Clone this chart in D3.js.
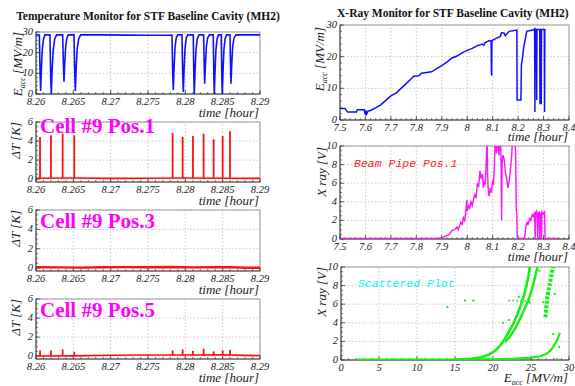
<!DOCTYPE html>
<html>
<head>
<meta charset="utf-8">
<script src="https://cdn.jsdelivr.net/npm/d3@7"></script>
<style>
  body { margin: 0; background: #fff; }
  svg { display: block; }
  .serif { font-family: "Liberation Serif", "Times New Roman", Times, "DejaVu Serif", serif; }
  .tick-label { font-family: "Liberation Serif", "Times New Roman", Times, "DejaVu Serif", serif; font-style: italic; font-size: 10.5px; fill: #222; }
  .axis-title { font-family: "Liberation Serif", "Times New Roman", Times, "DejaVu Serif", serif; font-style: italic; font-size: 13px; fill: #222; }
  .title { font-family: "Liberation Serif", "Times New Roman", Times, "DejaVu Serif", serif; font-weight: bold; font-size: 11.5px; fill: #111; }
  .cell { font-family: "Liberation Serif", "Times New Roman", Times, "DejaVu Serif", serif; font-weight: bold; font-size: 21px; fill: #ff00ff; }
  .mono { font-family: "Liberation Mono", "Courier New", Courier, "DejaVu Sans Mono", monospace; font-style: italic; font-size: 11.5px; }
</style>
</head>
<body>
<div id="chart"></div>
<script>
// ---- data ----
var leftTicks = [8.26, 8.265, 8.27, 8.275, 8.28, 8.285, 8.29];
var leftTickLabels = ["8.26", "8.265", "8.27", "8.275", "8.28", "8.285", "8.29"];
var rightTicks = [7.5, 7.6, 7.7, 7.8, 7.9, 8.0, 8.1, 8.2, 8.3, 8.4];
var rightTickLabels = ["7.5", "7.6", "7.7", "7.8", "7.9", "8", "8.1", "8.2", "8.3", "8.4"];
var eaccTicks = [0, 10, 20, 30];
var dtTicks = [0, 2, 4, 6];
var xrayTicks = [0, 2, 4, 6, 8, 10];
var scatterTicks = [0, 5, 10, 15, 20, 25, 30];

// E_acc vs time, short window (hour, MV/m)
var eaccShort = [
  [8.2600, 28.7], [8.26045, 28.6], [8.26055, 10], [8.26062, 1.5], [8.26072, 12], [8.26085, 22], [8.2610, 26.5], [8.2612, 28.6],
  [8.26187, 28.6], [8.26197, 8], [8.26205, 0], [8.26215, 11], [8.2623, 21], [8.2625, 26.5], [8.26277, 28.6],
  [8.26357, 28.6], [8.26367, 14], [8.26375, 6], [8.26385, 15], [8.26398, 23], [8.26413, 27], [8.26433, 28.6],
  [8.26509, 28.6], [8.26519, 10], [8.26527, 1.5], [8.26537, 12], [8.26552, 22], [8.26572, 26.8], [8.26598, 28.6],
  [8.2690, 28.6], [8.2720, 28.5], [8.2750, 28.4], [8.2775, 28.4],
  [8.27821, 28.5], [8.27831, 10], [8.27839, 2], [8.27849, 13], [8.27862, 22.5], [8.27877, 27], [8.27897, 28.6],
  [8.27955, 28.6], [8.27965, 9], [8.27973, 1], [8.27983, 12], [8.27996, 22], [8.28011, 26.8], [8.28031, 28.6],
  [8.28106, 28.6], [8.28114, 8], [8.2812, 0], [8.2813, 11], [8.28143, 21.5], [8.28160, 26.6], [8.28183, 28.6],
  [8.28245, 28.6], [8.28253, 13], [8.28259, 5], [8.28269, 14], [8.28282, 23], [8.28298, 27], [8.28321, 28.6],
  [8.28374, 28.6], [8.28382, 8], [8.28388, 0], [8.28398, 11], [8.2841, 21.5], [8.28425, 26.6], [8.28446, 28.6],
  [8.28481, 28.6], [8.28489, 8], [8.28495, 0], [8.28505, 11], [8.28517, 21.5], [8.28532, 26.6], [8.28553, 28.6],
  [8.28598, 28.6], [8.28606, 13], [8.28611, 5], [8.28621, 14], [8.28634, 23], [8.28652, 27], [8.28678, 28.6],
  [8.2880, 28.6], [8.2900, 28.6]
];

// quench spike times and Delta T heights (hour, K)
var spikeTimes = [8.26054, 8.26201, 8.26357, 8.26513, 8.2783, 8.27964, 8.28102, 8.28245, 8.28379, 8.285, 8.28598];
var pos1Heights = [4.43, 4.6, 4.78, 4.6, 4.85, 4.43, 4.53, 4.78, 4.19, 4.53, 5.02];
var pos5Heights = [0.6, 0.6, 0.7, 0.45, 0.6, 0.7, 0.55, 0.8, 0.5, 0.6, 0.65];

// Delta T baselines (hour, K)
var pos1Base = [[8.26, 0.1], [8.265, 0.12], [8.27, 0.08], [8.275, 0.1], [8.28, 0.12], [8.285, 0.1], [8.29, 0.08]];
var pos3Base = [[8.26, 0.08], [8.263, 0.07], [8.266, 0.05], [8.269, 0.08], [8.272, 0.1], [8.275, 0.08], [8.278, 0.12],
  [8.281, 0.07], [8.284, 0.09], [8.286, 0.1], [8.288, 0.04], [8.29, 0.03]];
var pos5Base = [[8.26, 0.02], [8.265, 0.03], [8.27, 0.1], [8.275, 0.12], [8.28, 0.12], [8.285, 0.15], [8.288, 0.08], [8.29, 0.05]];

// E_acc vs time, long window (hour, MV/m)
var eaccLong = [
  [7.50, 3.6], [7.52, 3.6], [7.53, 2.5], [7.565, 2.5], [7.568, 3.2], [7.595, 3.2], [7.60, 1.6], [7.602, 3.0], [7.605, 1.9],
  [7.61, 2.8], [7.62, 3.0], [7.64, 3.8], [7.66, 4.8], [7.68, 6.2], [7.70, 7.6], [7.72, 8.5], [7.74, 10], [7.76, 11.5],
  [7.78, 13], [7.79, 13.8], [7.81, 14.0], [7.82, 14.8], [7.84, 15.0], [7.86, 15.2], [7.88, 16.2], [7.90, 17.2],
  [7.92, 18.3], [7.94, 19.6], [7.96, 20.2], [7.98, 21.2], [8.00, 22.0], [8.02, 22.6], [8.04, 23.5], [8.06, 24.0],
  [8.065, 23.6], [8.07, 24.4], [8.085, 25.0], [8.094, 25.0], [8.095, 15.5], [8.096, 14.0], [8.097, 25.0],
  [8.10, 25.2], [8.12, 26.0], [8.13, 26.4], [8.135, 27.6], [8.145, 27.4], [8.15, 26.6], [8.155, 27.2], [8.165, 28.0],
  [8.195, 28.4], [8.196, 6.3], [8.211, 6.3], [8.213, 17.5], [8.217, 19.5], [8.222, 23], [8.228, 25.5], [8.234, 28.0],
  [8.262, 28.5], [8.265, 28.8], [8.266, 2.5], [8.267, 28.7], [8.272, 28.6], [8.273, 6.3], [8.274, 28.6],
  [8.285, 28.6], [8.286, 5.0], [8.287, 28.6], [8.29, 28.6], [8.291, 5.0], [8.292, 28.6], [8.303, 28.6],
  [8.304, 2.5], [8.305, 28.5], [8.308, 28.5]
];

// X ray (beam pipe pos.1) vs time (hour, V)
var xrayPos1 = [
  [7.50, 0.05], [7.88, 0.05], [7.90, 0.1], [7.915, 0.3], [7.93, 0.5], [7.94, 0.9], [7.95, 1.0], [7.96, 1.3], [7.965, 1.0],
  [7.975, 1.8], [7.98, 1.6], [7.985, 2.3], [7.99, 2.0], [7.995, 3.0], [7.998, 4.2], [8.00, 3.0], [8.005, 3.6],
  [8.01, 3.3], [8.015, 4.0], [8.02, 3.6], [8.025, 4.3], [8.03, 4.8], [8.035, 4.4], [8.04, 6.0], [8.045, 5.6],
  [8.05, 7.3], [8.055, 6.5], [8.06, 7.0], [8.063, 5.5], [8.067, 6.2], [8.07, 5.8], [8.075, 8.5], [8.078, 11],
  [8.08, 7.0], [8.083, 5.0], [8.087, 4.6], [8.09, 5.5], [8.095, 5.0], [8.10, 6.3], [8.103, 5.8], [8.107, 8.0],
  [8.11, 11], [8.115, 9.2], [8.12, 11], [8.125, 9.0], [8.13, 11], [8.133, 8.5], [8.135, 2.0], [8.137, 8.0],
  [8.14, 9.0], [8.145, 8.6], [8.15, 7.2], [8.155, 6.5], [8.16, 5.5], [8.165, 6.2], [8.17, 7.5], [8.175, 9.0],
  [8.178, 11], [8.185, 11], [8.19, 9.5], [8.193, 3.0], [8.195, 2.5], [8.197, 0.05], [8.225, 0.05], [8.23, 1.2],
  [8.235, 1.8], [8.24, 1.6], [8.245, 2.2], [8.25, 2.0], [8.255, 2.6], [8.26, 2.4], [8.265, 2.9], [8.267, 0.0],
  [8.269, 2.8], [8.272, 3.0], [8.275, 2.7], [8.277, 0.0], [8.279, 2.8], [8.283, 2.9], [8.285, 0.0], [8.287, 2.6],
  [8.29, 2.8], [8.292, 0.0], [8.294, 2.9], [8.30, 2.7], [8.304, 3.0], [8.306, 0.05], [8.355, 0.05]
];

// X ray vs E_acc scatter (MV/m, V), dense bands and loose points
var scatterLow = [[2, 0.04], [15, 0.04], [20, 0.08], [23, 0.15], [25, 0.25], [26.2, 0.4], [27, 0.65], [27.5, 0.95],
  [28, 1.5], [28.4, 2.1], [28.8, 2.9]];
var scatterBand1 = [[15, 0.04], [17, 0.12], [18.5, 0.3], [19.5, 0.6], [20.3, 1.0], [21, 1.6], [21.5, 2.2], [22, 2.9],
  [22.6, 3.8], [23.2, 4.9], [23.7, 6.0], [24.1, 7.0], [24.4, 8.0], [24.7, 9.2], [24.9, 10.2]];
var scatterBand2 = [[21.6, 1.9], [22.3, 2.6], [23, 3.5], [23.6, 4.5], [24.2, 5.6], [24.7, 6.5], [25.1, 7.6],
  [25.5, 8.8], [25.9, 10.2]];
var scatterBand3 = [[26.9, 4.6], [27.0, 5.5], [27.1, 6.5], [27.3, 7.5], [27.5, 8.3], [27.7, 9.2], [27.9, 10.2]];
var scatterFlat = [[22, 6.4], [23, 6.4], [24, 6.3], [25, 6.4]];
var scatterLoose = [[14, 5.7], [16.3, 6.4], [17.4, 6.4], [28.7, 1.4], [21.3, 4.0], [22.1, 4.3], [24.8, 6.2],
  [28.4, 0.1], [24.8, 9.9], [26.1, 9.6], [27.9, 2.8], [26.6, 6.2], [28.1, 7.1], [23.4, 6.8]];

var W = 575, H = 386;
var svg = d3.select("#chart").append("svg").attr("width", W).attr("height", H);

// ROOT-like frame: gray box, dark left/bottom axes with inward ticks, dotted grid
function frame(p) {
  var g = svg.append("g");
  var x = p.x, y = p.y;
  var x0 = x.range()[0], x1 = x.range()[1], y0 = y.range()[0], y1 = y.range()[1];

  g.selectAll(".gx").data(p.xTicks).enter().append("line")
    .attr("x1", function(d) { return x(d); }).attr("x2", function(d) { return x(d); })
    .attr("y1", y0).attr("y2", y1)
    .attr("stroke", "#bbb").attr("stroke-width", 0.8).attr("stroke-dasharray", "1.5,2");
  g.selectAll(".gy").data(p.yTicks).enter().append("line")
    .attr("x1", x0).attr("x2", x1)
    .attr("y1", function(d) { return y(d); }).attr("y2", function(d) { return y(d); })
    .attr("stroke", "#bbb").attr("stroke-width", 0.8).attr("stroke-dasharray", "1.5,2");

  g.append("rect").attr("x", x0).attr("y", y1).attr("width", x1 - x0).attr("height", y0 - y1)
    .attr("fill", "none").attr("stroke", "#999").attr("stroke-width", 1);

  // axes
  g.append("line").attr("x1", x0).attr("x2", x1).attr("y1", y0).attr("y2", y0).attr("stroke", "#444");
  g.append("line").attr("x1", x0).attr("x2", x0).attr("y1", y0).attr("y2", y1).attr("stroke", "#444");

  g.selectAll(".mx").data(x.ticks(p.xMinor)).enter().append("line")
    .attr("x1", function(d) { return x(d); }).attr("x2", function(d) { return x(d); })
    .attr("y1", y0).attr("y2", y0 - 2).attr("stroke", "#444").attr("stroke-width", 0.7);
  g.selectAll(".tx").data(p.xTicks).enter().append("line")
    .attr("x1", function(d) { return x(d); }).attr("x2", function(d) { return x(d); })
    .attr("y1", y0).attr("y2", y0 - 4).attr("stroke", "#444").attr("stroke-width", 0.8);
  g.selectAll(".my").data(y.ticks(p.yMinor)).enter().append("line")
    .attr("x1", x0).attr("x2", x0 + 2)
    .attr("y1", function(d) { return y(d); }).attr("y2", function(d) { return y(d); })
    .attr("stroke", "#444").attr("stroke-width", 0.7);
  g.selectAll(".ty").data(p.yTicks).enter().append("line")
    .attr("x1", x0).attr("x2", x0 + 4)
    .attr("y1", function(d) { return y(d); }).attr("y2", function(d) { return y(d); })
    .attr("stroke", "#444").attr("stroke-width", 0.8);

  g.selectAll(".lx").data(p.xTicks).enter().append("text").attr("class", "tick-label")
    .attr("x", function(d) { return x(d); }).attr("y", y0 + 10.5)
    .attr("text-anchor", "middle").text(function(d, i) { return p.xLabels[i]; });
  g.selectAll(".ly").data(p.yTicks).enter().append("text").attr("class", "tick-label")
    .attr("x", x0 - 3).attr("y", function(d) { return y(d) + 3; })
    .attr("text-anchor", "end").text(function(d) { return d; });

  // clip for data
  var id = "clip" + p.id;
  svg.append("clipPath").attr("id", id).append("rect")
    .attr("x", x0).attr("y", y1).attr("width", x1 - x0).attr("height", y0 - y1);
  return svg.append("g").attr("clip-path", "url(#" + id + ")");
}

function addParts(t, parts) {
  parts.forEach(function(p) {
    var s = t.append("tspan").text(p[0]);
    if (p[1]) s.attr("font-size", "8px").attr("dy", 3);
    else if (p[2]) s.attr("dy", -3);
  });
}
function xTitle(xr, yb, parts) {
  var t = svg.append("text").attr("class", "axis-title").attr("x", xr).attr("y", yb).attr("text-anchor", "end");
  addParts(t, parts);
}
function yTitle(xb, yt, parts) {
  var t = svg.append("text").attr("class", "axis-title")
    .attr("transform", "translate(" + xb + "," + yt + ") rotate(-90)").attr("text-anchor", "end");
  addParts(t, parts);
}
var eaccParts = [["E"], ["acc", true], [" [MV/m]", false, true]];

var lineGen = function(x, y) {
  return d3.line().x(function(d) { return x(d[0]); }).y(function(d) { return y(d[1]); });
};

// ---------------- left column ----------------
var xl = d3.scaleLinear().domain([8.26, 8.29]).range([36, 260]);

svg.append("text").attr("class", "title").attr("x", 148).attr("y", 20).attr("text-anchor", "middle")
  .text("Temperature Monitor for STF Baseline Cavity (MH2)");

// E_acc
var y1 = d3.scaleLinear().domain([0, 30]).range([94, 32]);
var g1 = frame({ id: "l1", x: xl, y: y1, xTicks: leftTicks, xLabels: leftTickLabels, yTicks: eaccTicks, xMinor: 30, yMinor: 15 });
g1.append("path").datum(eaccShort).attr("d", lineGen(xl, y1))
  .attr("fill", "none").attr("stroke", "#1010ff").attr("stroke-width", 1.6);
yTitle(22, 32, eaccParts);
xTitle(259, 117, [["time [hour]"]]);

// Delta T panels
var dtPanels = [
  { id: "l2", top: 122, bottom: 182, base: pos1Base, heights: pos1Heights, label: "Cell #9 Pos.1", lab: 133 },
  { id: "l3", top: 210, bottom: 271, base: pos3Base, heights: null, label: "Cell #9 Pos.3", lab: 228 },
  { id: "l4", top: 299, bottom: 359, base: pos5Base, heights: pos5Heights, label: "Cell #9 Pos.5", lab: 317 }
];
dtPanels.forEach(function(p) {
  var y = d3.scaleLinear().domain([-0.3, 6]).range([p.bottom, p.top]);
  var g = frame({ id: p.id, x: xl, y: y, xTicks: leftTicks, xLabels: leftTickLabels, yTicks: dtTicks, xMinor: 30, yMinor: 12 });
  g.append("path").datum(p.base).attr("d", lineGen(xl, y))
    .attr("fill", "none").attr("stroke", "#ff1010").attr("stroke-width", p.heights ? 1.6 : 2.4);
  if (p.heights) {
    g.selectAll(".spk").data(spikeTimes).enter().append("rect")
      .attr("x", function(d) { return xl(d) - 0.9; })
      .attr("width", 1.8)
      .attr("y", function(d, i) { return y(p.heights[i]); })
      .attr("height", function(d, i) { return y(0.05) - y(p.heights[i]); })
      .attr("fill", "#ff1010");
  }
  yTitle(20, p.top, [["\u0394"], ["T [K]"]]);
  xTitle(259, p.bottom + 23, [["time [hour]"]]);
  svg.append("text").attr("class", "cell").attr("x", 40).attr("y", p.lab).text(p.label);
});

// ---------------- right column ----------------
var xr = d3.scaleLinear().domain([7.5, 8.4]).range([340, 569]);

svg.append("text").attr("class", "title").attr("x", 337).attr("y", 17).attr("text-anchor", "start")
  .text("X-Ray Monitor for STF Baseline Cavity (MH2)");

var yr1 = d3.scaleLinear().domain([0, 30]).range([120, 25]);
var gr1 = frame({ id: "r1", x: xr, y: yr1, xTicks: rightTicks, xLabels: rightTickLabels, yTicks: eaccTicks, xMinor: 45, yMinor: 15 });
gr1.append("path").datum(eaccLong).attr("d", lineGen(xr, yr1))
  .attr("fill", "none").attr("stroke", "#1010ff").attr("stroke-width", 1.5);
yTitle(324, 27, eaccParts);
xTitle(568, 141, [["time [hour]"]]);

var yr2 = d3.scaleLinear().domain([0, 10]).range([239, 146]);
var gr2 = frame({ id: "r2", x: xr, y: yr2, xTicks: rightTicks, xLabels: rightTickLabels, yTicks: xrayTicks, xMinor: 45, yMinor: 20 });
gr2.append("path").datum(xrayPos1).attr("d", lineGen(xr, yr2))
  .attr("fill", "none").attr("stroke", "#ff10ff").attr("stroke-width", 1.4);
yTitle(326, 147, [["X ray [V]"]]);
xTitle(568, 261, [["time [hour]"]]);
svg.append("text").attr("class", "mono").attr("x", 354).attr("y", 167).attr("fill", "#ff2020").text("Beam Pipe Pos.1");

var xs = d3.scaleLinear().domain([0, 30]).range([341, 569]);
var yr3 = d3.scaleLinear().domain([0, 10]).range([360, 267]);
var gr3 = frame({ id: "r3", x: xs, y: yr3, xTicks: scatterTicks, xLabels: scatterTicks.map(String), yTicks: xrayTicks, xMinor: 30, yMinor: 20 });
var green = "#18ee18";
[[scatterLow, 2.2, null], [scatterBand1, 2.6, null], [scatterBand2, 2.4, null], [scatterBand3, 4, "3,1.5"], [scatterFlat, 1.6, "2,2"]].forEach(function(b) {
  gr3.append("path").datum(b[0]).attr("d", lineGen(xs, yr3))
    .attr("fill", "none").attr("stroke", green).attr("stroke-width", b[1]).attr("stroke-linejoin", "round")
    .attr("stroke-dasharray", b[2]);
});
gr3.selectAll(".pt").data(scatterLoose).enter().append("rect")
  .attr("x", function(d) { return xs(d[0]) - 1; }).attr("y", function(d) { return yr3(d[1]) - 1; })
  .attr("width", 2).attr("height", 2).attr("fill", green);
yTitle(326, 267, [["X ray [V]"]]);
xTitle(568, 382, eaccParts);
svg.append("text").attr("class", "mono").attr("x", 358).attr("y", 287).attr("fill", "#10f0f0").text("Scattered Plot");
</script>
</body>
</html>
